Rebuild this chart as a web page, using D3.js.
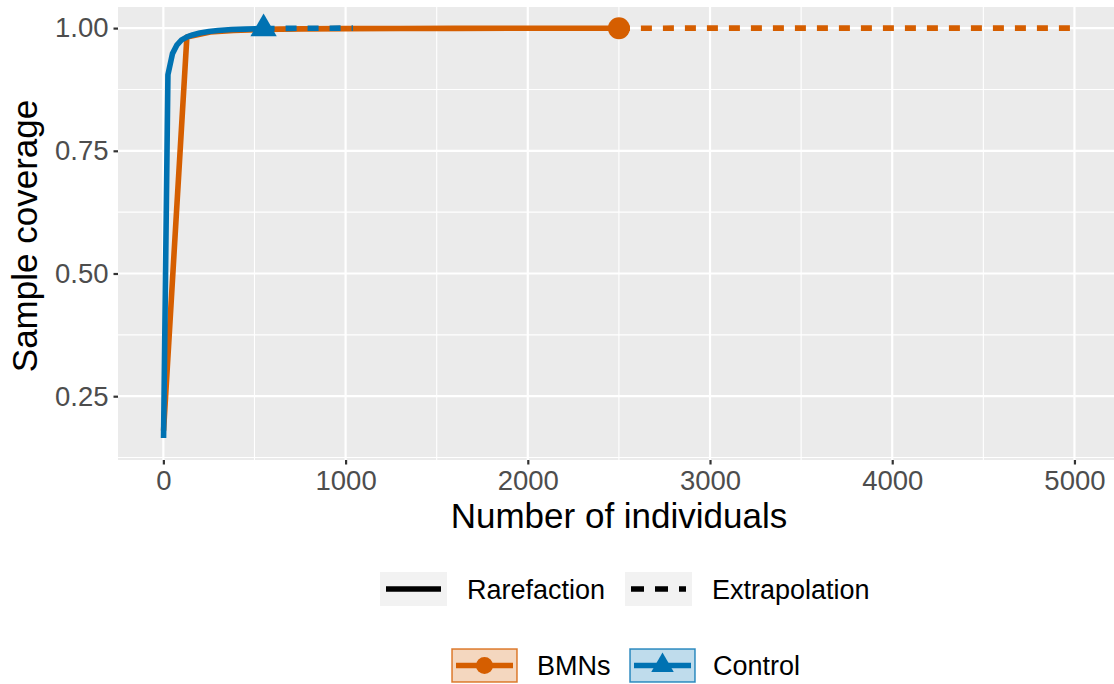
<!DOCTYPE html>
<html>
<head>
<meta charset="utf-8">
<script src="https://cdn.jsdelivr.net/npm/d3@7"></script>
<style>
  body { margin: 0; background: #fff; }
  text { font-family: "Liberation Sans", Arial, sans-serif; }
</style>
</head>
<body>
<div id="chart-area"></div>
<script>
// data
const groups = ["BMNs", "Control"];
const colors = ["#D55E00", "#0072B2"];

// [individuals, coverage]
const bmnsRare = [[1, 0.18], [129, 0.982], [257, 0.992], [385, 0.995], [513, 0.997], [641, 0.998],
  [769, 0.9985], [1000, 0.999], [1300, 0.9993], [1600, 0.9995], [2000, 0.9997], [2500, 0.9998]];
const bmnsExtra = [[2500, 0.9998], [3000, 0.9999], [4000, 1.0], [5000, 1.0]];
const controlRare = [[1, 0.165], [25, 0.905], [50, 0.948], [75, 0.966], [100, 0.976], [130, 0.982],
  [160, 0.986], [200, 0.99], [250, 0.993], [300, 0.995], [375, 0.997], [450, 0.998], [550, 0.999]];
const controlExtra = [[550, 0.999], [700, 0.9995], [850, 0.9998], [1040, 0.9999]];
const observed = [[2500, 0.9998], [550, 0.999]];

const xTicks = [0, 1000, 2000, 3000, 4000, 5000];
const yTicks = [0.25, 0.50, 0.75, 1.00];
const xMinor = [500, 1500, 2500, 3500, 4500];
const yMinor = [0.125, 0.375, 0.625, 0.875];

const width = 1114;
const height = 684;

const svg = d3.select("#chart-area")
    .append("svg")
    .attr("width", width)
    .attr("height", height);

// panel
const pLeft = 118, pRight = 1120, pTop = 7, pBottom = 460;

const x = d3.scaleLinear().domain([-249, 5250]).range([pLeft, pRight]);
const y = d3.scaleLinear().domain([0.12, 1.043]).range([pBottom, pTop]);

svg.append("rect")
    .attr("x", pLeft).attr("y", pTop)
    .attr("width", pRight - pLeft).attr("height", pBottom - pTop)
    .attr("fill", "#EBEBEB");

// minor grid
svg.selectAll(".xminor").data(xMinor).enter().append("line")
    .attr("x1", d => x(d)).attr("x2", d => x(d))
    .attr("y1", pTop).attr("y2", pBottom)
    .attr("stroke", "#fff").attr("stroke-width", 1.1);
svg.selectAll(".yminor").data(yMinor).enter().append("line")
    .attr("y1", d => y(d)).attr("y2", d => y(d))
    .attr("x1", pLeft).attr("x2", pRight)
    .attr("stroke", "#fff").attr("stroke-width", 1.1);

// major grid
svg.selectAll(".xmajor").data(xTicks).enter().append("line")
    .attr("x1", d => x(d)).attr("x2", d => x(d))
    .attr("y1", pTop).attr("y2", pBottom)
    .attr("stroke", "#fff").attr("stroke-width", 2.2);
svg.selectAll(".ymajor").data(yTicks).enter().append("line")
    .attr("y1", d => y(d)).attr("y2", d => y(d))
    .attr("x1", pLeft).attr("x2", pRight)
    .attr("stroke", "#fff").attr("stroke-width", 2.2);

// axes
const xAxis = svg.append("g")
    .attr("transform", `translate(0,${pBottom})`)
    .call(d3.axisBottom(x).tickValues(xTicks).tickSize(4.5).tickPadding(6).tickFormat(d3.format("d")));
const yAxis = svg.append("g")
    .attr("transform", `translate(${pLeft},0)`)
    .call(d3.axisLeft(y).tickValues(yTicks).tickSize(4.5).tickPadding(5).tickFormat(d3.format(".2f")));

[xAxis, yAxis].forEach(g => {
  g.select(".domain").remove();
  g.selectAll(".tick line").attr("stroke", "#333").attr("stroke-width", 2.2);
  g.selectAll(".tick text")
    .attr("fill", "#4D4D4D")
    .style("font-size", "27.5px")
    .style("font-family", "'Liberation Sans', Arial, sans-serif");
});

// lines
const line = d3.line().x(d => x(d[0])).y(d => y(d[1]));

const series = [
  {rare: bmnsRare, extra: bmnsExtra, obs: observed[0], col: colors[0], shape: "circle"},
  {rare: controlRare, extra: controlExtra, obs: observed[1], col: colors[1], shape: "triangle"}
];

series.forEach(s => {
  svg.append("path")
    .datum(s.rare)
    .attr("d", line)
    .attr("fill", "none")
    .attr("stroke", s.col)
    .attr("stroke-width", 5.6)
    .attr("stroke-linejoin", "round");
  svg.append("path")
    .datum(s.extra)
    .attr("d", line)
    .attr("fill", "none")
    .attr("stroke", s.col)
    .attr("stroke-width", 5.6)
    .attr("stroke-dasharray", "11 11");
  svg.append("path")
    .attr("transform", `translate(${x(s.obs[0])},${y(s.obs[1])})`)
    .attr("d", s.shape === "circle"
        ? d3.symbol().type(d3.symbolCircle).size(Math.PI * 11 * 11)()
        : d3.symbol().type(d3.symbolTriangle).size(300)())
    .attr("fill", s.col);
});

// axis titles
svg.append("text")
    .attr("x", (pLeft + pRight) / 2).attr("y", 528)
    .attr("text-anchor", "middle")
    .style("font-size", "35px")
    .text("Number of individuals");

svg.append("text")
    .attr("transform", "translate(37,236) rotate(-90)")
    .attr("text-anchor", "middle")
    .style("font-size", "35px")
    .text("Sample coverage");

// legend: line types
const ltypes = [
  {label: "Rarefaction", kx: 380, tx: 467, dash: null},
  {label: "Extrapolation", kx: 625, tx: 712, dash: "13 11"}
];
ltypes.forEach(l => {
  svg.append("rect")
    .attr("x", l.kx).attr("y", 572)
    .attr("width", 67).attr("height", 34)
    .attr("fill", "#F2F2F2");
  svg.append("line")
    .attr("x1", l.kx + 6).attr("x2", l.kx + 61)
    .attr("y1", 589).attr("y2", 589)
    .attr("stroke", "#000").attr("stroke-width", 5.6)
    .attr("stroke-dasharray", l.dash);
  svg.append("text")
    .attr("x", l.tx).attr("y", 599)
    .style("font-size", "27px")
    .text(l.label);
});

// legend: groups
const gkeys = [{kx: 452, tx: 537}, {kx: 630, tx: 713}];
groups.forEach((g, i) => {
  const k = gkeys[i];
  const col = colors[i];
  svg.append("rect")
    .attr("x", k.kx).attr("y", 649)
    .attr("width", 65).attr("height", 33)
    .attr("fill", col).attr("fill-opacity", 0.25)
    .attr("stroke", col).attr("stroke-opacity", 0.8).attr("stroke-width", 1.5);
  svg.append("line")
    .attr("x1", k.kx + 4).attr("x2", k.kx + 61)
    .attr("y1", 665.5).attr("y2", 665.5)
    .attr("stroke", col).attr("stroke-width", 5.6);
  svg.append("path")
    .attr("transform", `translate(${k.kx + 32.5},665.5)`)
    .attr("d", i === 0
        ? d3.symbol().type(d3.symbolCircle).size(Math.PI * 8.5 * 8.5)()
        : d3.symbol().type(d3.symbolTriangle).size(220)())
    .attr("fill", col);
  svg.append("text")
    .attr("x", k.tx).attr("y", 675)
    .style("font-size", "27px")
    .text(g);
});
</script>
</body>
</html>
